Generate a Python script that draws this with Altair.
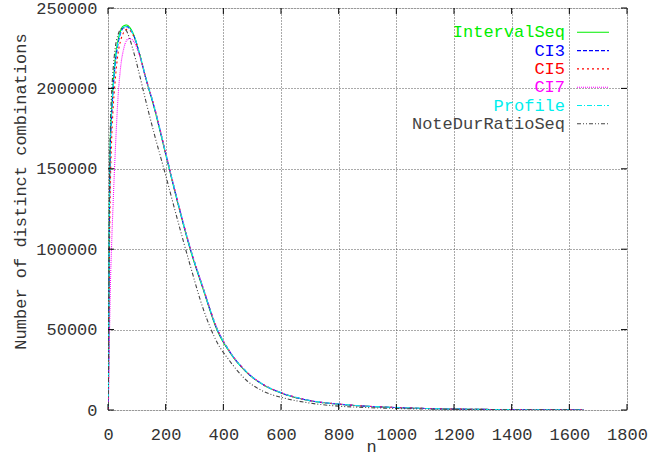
import altair as alt
import pandas as pd

# ---- data ----
n_vals = [1, 2, 3, 5, 8, 12, 17, 25, 35, 45, 55, 65, 75, 90, 110, 130, 160, 200,
          240, 285, 330, 380, 420, 480, 540, 600, 700, 800, 900, 1000, 1100, 1200,
          1300, 1400, 1500, 1600, 1650]

interval_seq = [2000, 30000, 70000, 130000, 168000, 185000, 200000, 218000, 230000,
                236500, 239000, 239400, 238000, 233000, 221000, 207000, 188000, 159000,
                130000, 100000, 75000, 49000, 36500, 23500, 15500, 10600, 5800, 3600,
                2300, 1500, 950, 600, 380, 240, 140, 70, 40]
ci3 = [1500, 25000, 62000, 122000, 162000, 180000, 197000, 215000, 228000,
       235000, 238000, 238400, 237200, 232500, 221000, 207000, 188500, 159500,
       130500, 100500, 75500, 49500, 36800, 23700, 15600, 10700, 5850, 3650,
       2320, 1510, 960, 610, 385, 245, 145, 72, 42]
ci5 = [1000, 18000, 45000, 95000, 138000, 165000, 185000, 205000, 222000,
       230500, 235000, 236700, 236200, 232000, 221000, 207500, 189000, 160000,
       131000, 101000, 76000, 50000, 37000, 23800, 15700, 10800, 5900, 3700,
       2350, 1520, 970, 620, 390, 250, 150, 75, 45]
ci7 = [500, 8000, 20000, 45000, 75000, 100000, 125000, 160000, 195000,
       215000, 225000, 230000, 231000, 229000, 220000, 207000, 189000, 160000,
       131000, 101000, 76000, 50000, 37000, 23800, 15700, 10800, 5900, 3700,
       2350, 1520, 970, 620, 390, 250, 150, 75, 45]
profile = [1800, 28000, 66000, 126000, 165000, 183000, 199000, 216500, 229000,
           235500, 238200, 238500, 237400, 232800, 221500, 207500, 188800, 159800,
           130800, 100800, 75800, 49800, 36900, 23800, 15650, 10750, 5880, 3680,
           2340, 1515, 965, 615, 388, 248, 148, 74, 44]
note_dur_ratio_seq = [2500, 35000, 80000, 140000, 175000, 195000, 210000, 225000, 233500,
                      237000, 237500, 235500, 231000, 222000, 208000, 193000, 172000, 146000,
                      119000, 90000, 63000, 41500, 31000, 18500, 11500, 7900, 4300, 2400,
                      1500, 950, 600, 380, 240, 150, 90, 45, 25]

series_names = ["IntervalSeq", "CI3", "CI5", "CI7", "Profile", "NoteDurRatioSeq"]
series_values = [interval_seq, ci3, ci5, ci7, profile, note_dur_ratio_seq]
series_colors = ["#00ee00", "#0000ff", "#ff0000", "#ff00ff", "#00eeee", "#444444"]
series_dashes = [[1, 0], [4, 2], [2, 3], [1, 1], [5, 2, 1, 2], [4, 2, 1, 2, 1, 2]]

x_ticks = [0, 200, 400, 600, 800, 1000, 1200, 1400, 1600, 1800]
y_ticks = [0, 50000, 100000, 150000, 200000, 250000]

FONT = "Liberation Mono"
W, H = 519, 402

x_scale = alt.Scale(domain=[0, 1800], nice=False, zero=False)
y_scale = alt.Scale(domain=[0, 250000], nice=False, zero=False)

x_axis = alt.Axis(values=x_ticks, format="d", title="n", grid=True, gridDash=[1, 2],
                  gridColor="#555555", tickSize=0, domain=False, labelPadding=24,
                  labelBaseline="middle", labelFont=FONT, labelFontSize=17,
                  labelColor="#333333", titleFont=FONT, titleFontSize=17,
                  titleFontWeight="normal", titleColor="#333333", titleX=263, titleY=36,
                  titleBaseline="middle", labelFlush=False)
y_axis = alt.Axis(values=y_ticks, format="d", title="Number of distinct combinations",
                  grid=True, gridDash=[1, 2], gridColor="#555555", tickSize=0,
                  domain=False, labelPadding=11, labelFont=FONT, labelFontSize=17,
                  labelColor="#333333", titleFont=FONT, titleFontSize=17,
                  titleFontWeight="normal", titleColor="#333333", titleX=-88, titleY=183,
                  titleAlign="center", titleBaseline="middle", titleAngle=270,
                  labelFlush=False)


def X(field):
    return alt.X(field, scale=x_scale, axis=x_axis, title="n")


def Y(field):
    return alt.Y(field, scale=y_scale, axis=y_axis, title="Number of distinct combinations")


layers = []
for i, (name, vals) in enumerate(zip(series_names, series_values)):
    df = pd.DataFrame({"n": n_vals, "value": vals, "series": name})
    line = alt.Chart(df).mark_line(color=series_colors[i], strokeDash=series_dashes[i],
                                   strokeWidth=1.1, interpolate="monotone", clip=True).encode(
        x=X("n:Q"), y=Y("value:Q"))
    layers.append(line)

# tick marks (inward, on all four sides)
xt = pd.DataFrame({"n": x_ticks})
yt = pd.DataFrame({"value": y_ticks})
tick_color = "#000000"
layers.append(alt.Chart(xt).mark_rule(color=tick_color).encode(
    x=X("n:Q"), y=alt.value(H), y2=alt.value(H - 6)))
layers.append(alt.Chart(xt).mark_rule(color=tick_color).encode(
    x=X("n:Q"), y=alt.value(0), y2=alt.value(6)))
layers.append(alt.Chart(yt).mark_rule(color=tick_color).encode(
    y=Y("value:Q"), x=alt.value(0), x2=alt.value(6)))
layers.append(alt.Chart(yt).mark_rule(color=tick_color).encode(
    y=Y("value:Q"), x=alt.value(W), x2=alt.value(W - 6)))

# legend (label on the left, line sample on the right), gnuplot style
for i, name in enumerate(series_names):
    yy = 24.3 + 18.3 * i
    d = pd.DataFrame({"label": [name]})
    layers.append(alt.Chart(d).mark_text(align="right", baseline="middle", font=FONT,
                                         fontSize=17, color=series_colors[i]).encode(
        text="label:N", x=alt.value(457), y=alt.value(yy)))
    layers.append(alt.Chart(d).mark_rule(color=series_colors[i], strokeDash=series_dashes[i],
                                         strokeWidth=1.1).encode(
        x=alt.value(469), x2=alt.value(501), y=alt.value(yy)))

chart = alt.layer(*layers).properties(
    width=W, height=H,
    autosize=alt.AutoSizeParams(type="none"),
    padding={"left": 108, "top": 8, "right": 37, "bottom": 49},
).configure_view(stroke="#000000", strokeWidth=1.5).configure(background="white")

chart.save("out.html", embed_options={"renderer": "svg", "actions": False})
